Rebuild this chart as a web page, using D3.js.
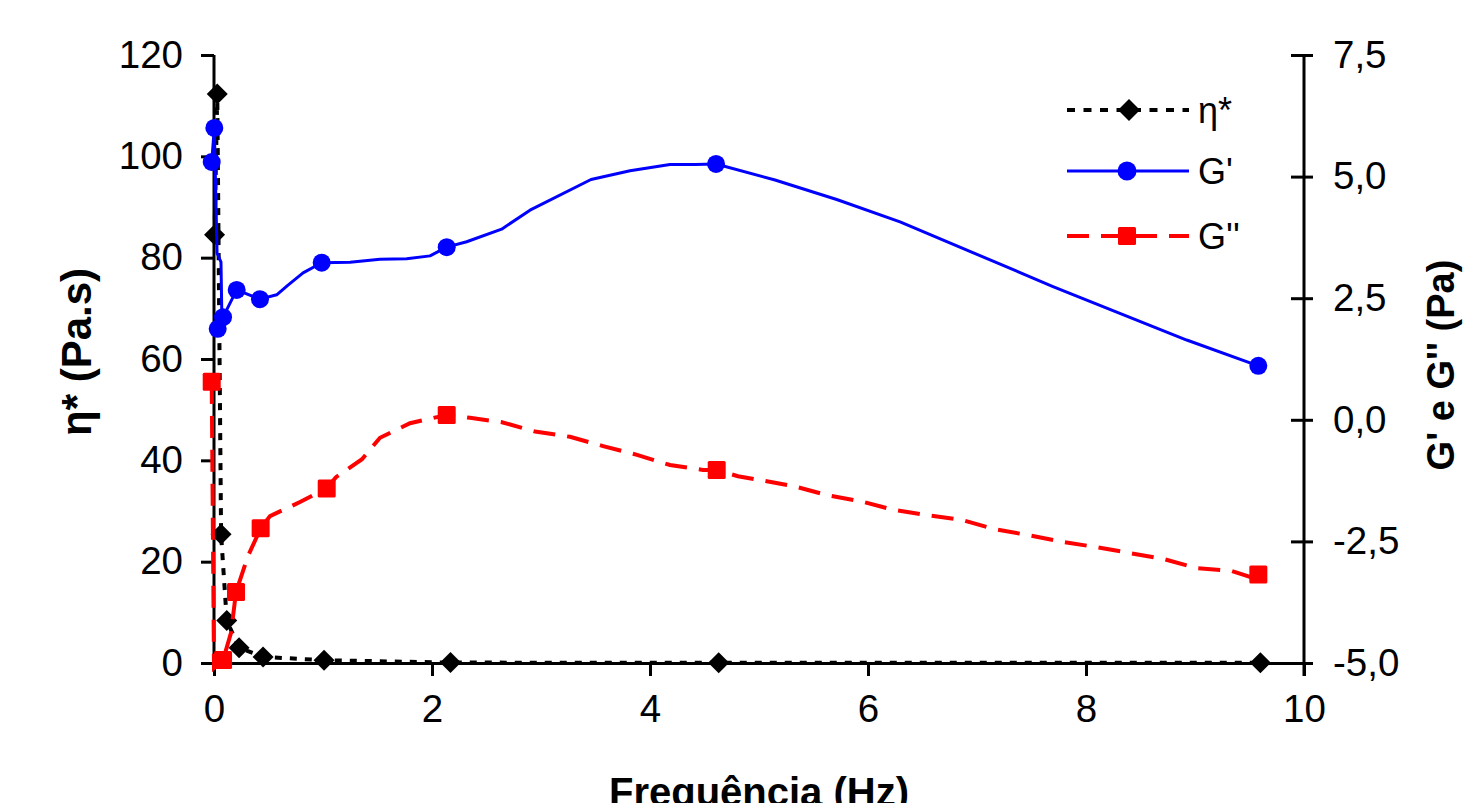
<!DOCTYPE html>
<html>
<head>
<meta charset="utf-8">
<script src="https://cdn.jsdelivr.net/npm/d3@7"></script>
<style>
  html, body { margin: 0; padding: 0; background: #fff; }
  svg { display: block; }
  text { font-family: "Liberation Sans", Arial, sans-serif; fill: #000; }
</style>
</head>
<body>
<svg id="chart" width="1465" height="803"></svg>
<script>
// ---------------- data ----------------
// complex viscosity eta* (Pa.s), left axis
const etaFreq = [0.005, 0.03, 0.065, 0.117, 0.23, 0.45, 1.01, 2.17, 4.63, 9.6];
const etaVals = [84.5, 112.3, 25.4, 8.4, 3.0, 1.2, 0.55, 0.08, 0.05, 0.04];

// G' markers (Pa), right axis
const gpFreq = [-0.021, 0.003, 0.034, 0.083, 0.208, 0.422, 0.988, 2.135, 4.606, 9.581];
const gpVals = [5.30, 6.00, 1.87, 2.11, 2.67, 2.48, 3.23, 3.55, 5.26, 1.11];
// G' curve as drawn (smoothed line through the measurements)
const gpLineFreq = [-0.021, 0.003, 0.028, 0.064, 0.071, 0.034, 0.083, 0.208, 0.422, 0.575, 0.679, 0.817, 0.988,
  1.248, 1.523, 1.768, 1.982, 2.135, 2.318, 2.639, 2.899, 3.459, 3.817, 4.183, 4.413, 4.606,
  5.147, 5.713, 6.294, 7.697, 8.924, 9.581];
const gpLineVals = [5.30, 6.00, 3.43, 3.24, 2.26, 1.87, 2.11, 2.67, 2.48, 2.57, 2.77, 3.02, 3.23,
  3.24, 3.30, 3.31, 3.37, 3.55, 3.66, 3.92, 4.31, 4.94, 5.12, 5.25, 5.25, 5.26,
  4.93, 4.53, 4.07, 2.74, 1.64, 1.11];

// G'' markers (Pa), right axis
const gppFreq = [-0.021, 0.083, 0.202, 0.428, 1.034, 2.135, 4.612, 9.581];
const gppVals = [0.78, -4.94, -3.54, -2.23, -1.41, 0.10, -1.03, -3.18];
// G'' curve as drawn
const gppLineFreq = [-0.021, 0.0, 0.083, 0.156, 0.202, 0.312, 0.428, 0.514, 0.789, 1.034, 1.119, 1.358,
  1.523, 1.798, 2.135, 2.349, 2.642, 2.945, 3.266, 3.569, 3.881, 4.183, 4.486, 4.612, 4.807,
  5.312, 5.624, 5.945, 6.229, 6.541, 6.862, 7.165, 7.468, 7.789, 8.101, 8.404, 8.725, 9.018,
  9.339, 9.505, 9.581];
const gppLineVals = [0.78, -5.10, -4.94, -4.38, -3.54, -2.80, -2.23, -1.98, -1.69, -1.41, -1.18, -0.81,
  -0.37, -0.07, 0.10, 0.04, -0.05, -0.24, -0.35, -0.54, -0.72, -0.93, -1.03, -1.03, -1.16,
  -1.36, -1.55, -1.68, -1.85, -1.96, -2.06, -2.25, -2.37, -2.51, -2.62, -2.74, -2.87, -3.05,
  -3.11, -3.23, -3.18];

// ticks
const xTicks = [0, 2, 4, 6, 8, 10];
const yLeftTicks = [0, 20, 40, 60, 80, 100, 120];
const yRightTicks = [-5, -2.5, 0, 2.5, 5, 7.5];
const legendNames = ["η*", "G'", "G''"];

// ---------------- drawing ----------------
const svg = d3.select("#chart");
const plotL = 214, plotR = 1304, plotT = 55, plotB = 663;

const x = d3.scaleLinear().domain([0, 10]).range([plotL, plotR]);
const yL = d3.scaleLinear().domain([0, 120]).range([plotB, plotT]);
const yR = d3.scaleLinear().domain([-5, 7.5]).range([plotB, plotT]);

const fmtR = v => d3.format(".1f")(v).replace(".", ",").replace("−", "-");

// x axis
const gx = svg.append("g").attr("transform", `translate(0,${plotB})`)
  .call(d3.axisBottom(x).tickValues(xTicks).tickSize(13).tickSizeOuter(0).tickPadding(19).tickFormat(d3.format("d")));
// left axis
const gl = svg.append("g").attr("transform", `translate(${plotL},0)`)
  .call(d3.axisLeft(yL).tickValues(yLeftTicks).tickSize(13).tickSizeOuter(0).tickPadding(18));
// right axis
const gr = svg.append("g").attr("transform", `translate(${plotR},0)`)
  .call(d3.axisRight(yR).tickValues(yRightTicks).tickSize(9).tickSizeOuter(0).tickPadding(20).tickFormat(fmtR));
gr.selectAll(".tick line").attr("x1", -13);

[gx, gl, gr].forEach(g => {
  g.select(".domain").attr("stroke", "#000").attr("stroke-width", 3);
  g.selectAll(".tick line").attr("stroke", "#000").attr("stroke-width", 3);
  g.selectAll(".tick text").attr("font-size", 38.5).attr("font-family", "Liberation Sans, Arial, sans-serif").attr("fill", "#000");
});
gl.select(".domain").attr("d", `M0,${plotB}V${plotT}`);
gr.select(".domain").attr("d", `M0,${plotB + 13}V${plotT}`);
gx.selectAll(".tick text").attr("dy", "0.71em");

// axis titles
svg.append("text").attr("transform", "translate(91,352) rotate(-90)")
  .attr("text-anchor", "middle").attr("font-size", 42).attr("font-weight", "bold").text("η* (Pa.s)");
svg.append("text").attr("transform", "translate(1454,365) rotate(-90)")
  .attr("text-anchor", "middle").attr("font-size", 38).attr("font-weight", "bold").text("G' e G'' (Pa)");
svg.append("text").attr("x", 759).attr("y", 806)
  .attr("text-anchor", "middle").attr("font-size", 40).attr("font-weight", "bold").text("Frequência (Hz)");

function diamondPath(cx, cy, s) { return `M${cx},${cy - s}L${cx + s},${cy}L${cx},${cy + s}L${cx - s},${cy}Z`; }

// eta* series
const etaData = etaFreq.map((f, i) => [f, etaVals[i]]);
svg.append("path").datum(etaData)
  .attr("d", d3.line().x(d => x(d[0])).y(d => yL(d[1])))
  .attr("fill", "none").attr("stroke", "#000").attr("stroke-width", 4).attr("stroke-dasharray", "7,8");
svg.append("g").selectAll("path").data(etaData).join("path")
  .attr("d", d => diamondPath(x(d[0]), yL(d[1]), 10.5)).attr("fill", "#000");

// G' series
const gpLine = gpLineFreq.map((f, i) => [f, gpLineVals[i]]);
svg.append("path").datum(gpLine)
  .attr("d", d3.line().x(d => x(d[0])).y(d => yR(d[1])))
  .attr("fill", "none").attr("stroke", "#0000ff").attr("stroke-width", 3).attr("stroke-linejoin", "round");
svg.append("g").selectAll("circle").data(gpFreq.map((f, i) => [f, gpVals[i]])).join("circle")
  .attr("cx", d => x(d[0])).attr("cy", d => yR(d[1])).attr("r", 9).attr("fill", "#0000ff");

// G'' series
const gppLine = gppLineFreq.map((f, i) => [f, gppLineVals[i]]);
svg.append("path").datum(gppLine)
  .attr("d", d3.line().x(d => x(d[0])).y(d => yR(d[1])))
  .attr("fill", "none").attr("stroke", "#ff0000").attr("stroke-width", 4).attr("stroke-dasharray", "22,12");
svg.append("g").selectAll("rect").data(gppFreq.map((f, i) => [f, gppVals[i]])).join("rect")
  .attr("x", d => x(d[0]) - 9).attr("y", d => yR(d[1]) - 9).attr("width", 18).attr("height", 18)
  .attr("rx", 1.5).attr("fill", "#ff0000");

// legend
const legY = [110, 171, 236];
const lx0 = 1067, lx1 = 1189, lmx = 1129;
svg.append("line").attr("x1", lx0).attr("x2", lx1).attr("y1", legY[0]).attr("y2", legY[0])
  .attr("stroke", "#000").attr("stroke-width", 4).attr("stroke-dasharray", "8,8.5");
svg.append("path").attr("d", diamondPath(lmx, legY[0], 11)).attr("fill", "#000");
svg.append("line").attr("x1", lx0).attr("x2", lx1).attr("y1", legY[1]).attr("y2", legY[1])
  .attr("stroke", "#0000ff").attr("stroke-width", 3);
svg.append("circle").attr("cx", 1127).attr("cy", legY[1]).attr("r", 9.5).attr("fill", "#0000ff");
svg.append("line").attr("x1", lx0).attr("x2", lx1).attr("y1", legY[2]).attr("y2", legY[2])
  .attr("stroke", "#ff0000").attr("stroke-width", 4).attr("stroke-dasharray", "22,12");
svg.append("rect").attr("x", 1118).attr("y", legY[2] - 9).attr("width", 18).attr("height", 18)
  .attr("rx", 1.5).attr("fill", "#ff0000");

svg.append("g").selectAll("text").data(legendNames).join("text")
  .attr("x", 1198).attr("y", (d, i) => legY[i] + 13).attr("font-size", 36).text(d => d);
</script>
</body>
</html>
